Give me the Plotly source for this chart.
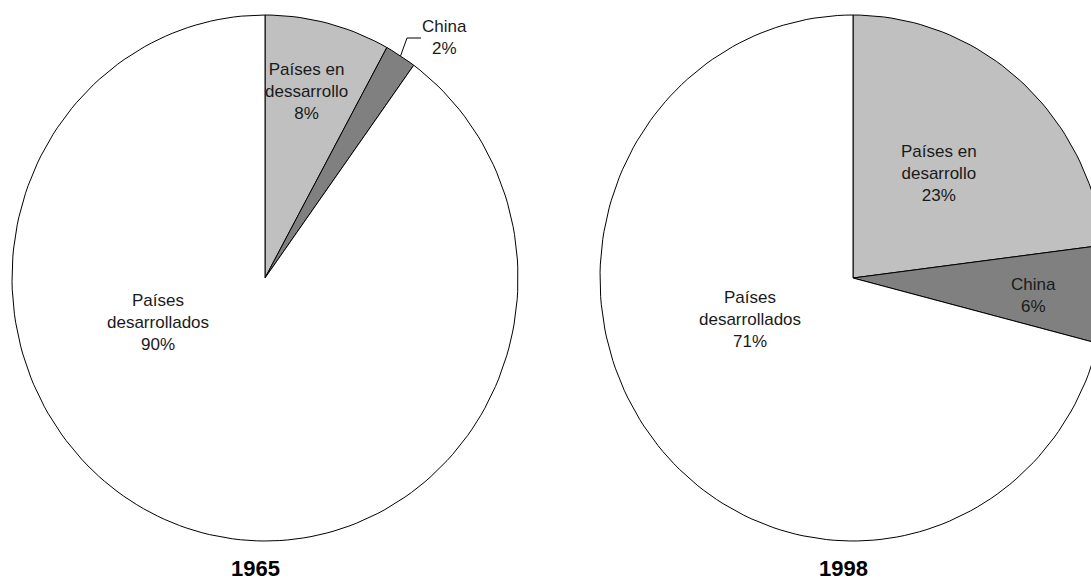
import math
import plotly.graph_objects as go

# ---- data -------------------------------------------------------------
years = ["1965", "1998"]
names_1965 = ["Países en<br>dessarrollo", "China", "Países<br>desarrollados"]
names_1998 = ["Países en<br>desarrollo", "China", "Países<br>desarrollados"]
values_1965 = [8, 2, 90]
values_1998 = [23, 6, 71]

# ---- layout / styling --------------------------------------------------
W, H = 1091, 583
RX, RY = 253, 263                      # pie radii in px (slightly taller than wide)
CENTERS = [(265, 278), (853, 278)]
SLICE_COLORS = ["#c0c0c0", "#808080", "#ffffff"]
LABEL_POS = [
    [(306, 91), None, (158, 322)],     # China 1965 uses a callout
    [(939, 173), (1033, 295), (750, 319)],
]
CALLOUT_LABEL = (444, 37)
FONT = "Liberation Sans, Arial, sans-serif"

fig = go.Figure()
annotations = []


def wedge(cx, cy, a0, a1, n=200):
    """Closed polygon for a slice spanning fractions a0..a1 clockwise from 12 o'clock."""
    xs, ys = [cx], [cy]
    steps = max(2, int(n * (a1 - a0)) + 2)
    for i in range(steps + 1):
        t = 2 * math.pi * (a0 + (a1 - a0) * i / steps)
        xs.append(cx + RX * math.sin(t))
        ys.append(cy - RY * math.cos(t))
    xs.append(cx)
    ys.append(cy)
    return xs, ys


for p, (names, values) in enumerate([(names_1965, values_1965), (names_1998, values_1998)]):
    cx, cy = CENTERS[p]
    total = sum(values)
    start = 0.0
    for k, (name, v) in enumerate(zip(names, values)):
        frac = v / total
        xs, ys = wedge(cx, cy, start, start + frac)
        fig.add_trace(go.Scatter(
            x=xs, y=ys, mode="lines", fill="toself",
            fillcolor=SLICE_COLORS[k],
            line=dict(color="#000000", width=1),
            hoverinfo="skip", showlegend=False,
        ))
        text = f"{name}<br>{v}%"
        pos = LABEL_POS[p][k]
        if pos is None:
            # callout from the middle of the slice's arc
            mid = 2 * math.pi * (start + frac / 2)
            sx = cx + RX * math.sin(mid)
            sy = cy - RY * math.cos(mid)
            ex, ey = CALLOUT_LABEL
            fig.add_trace(go.Scatter(
                x=[sx, ex - 37, ex - 23], y=[sy, ey + 1, ey + 1], mode="lines",
                line=dict(color="#000000", width=1),
                hoverinfo="skip", showlegend=False,
            ))
            pos = CALLOUT_LABEL
        annotations.append(dict(
            x=pos[0], y=pos[1], xref="x", yref="y", text=text, showarrow=False,
            font=dict(family=FONT, size=17, color="#1a1a1a"),
            align="center", xanchor="center", yanchor="middle",
        ))
        start += frac

    annotations.append(dict(
        x=cx - 10, y=H, xref="x", yref="y", text=f"<b>{years[p]}</b>",
        showarrow=False, font=dict(family=FONT, size=22, color="#000000"),
        xanchor="center", yanchor="bottom",
    ))

fig.update_layout(
    width=W, height=H,
    margin=dict(l=0, r=0, t=0, b=0),
    paper_bgcolor="#ffffff", plot_bgcolor="#ffffff",
    xaxis=dict(range=[0, W], visible=False, fixedrange=True),
    yaxis=dict(range=[H, 0], visible=False, fixedrange=True),
    annotations=annotations,
    showlegend=False,
)

fig.write_html("out.html", config={"displayModeBar": False})
